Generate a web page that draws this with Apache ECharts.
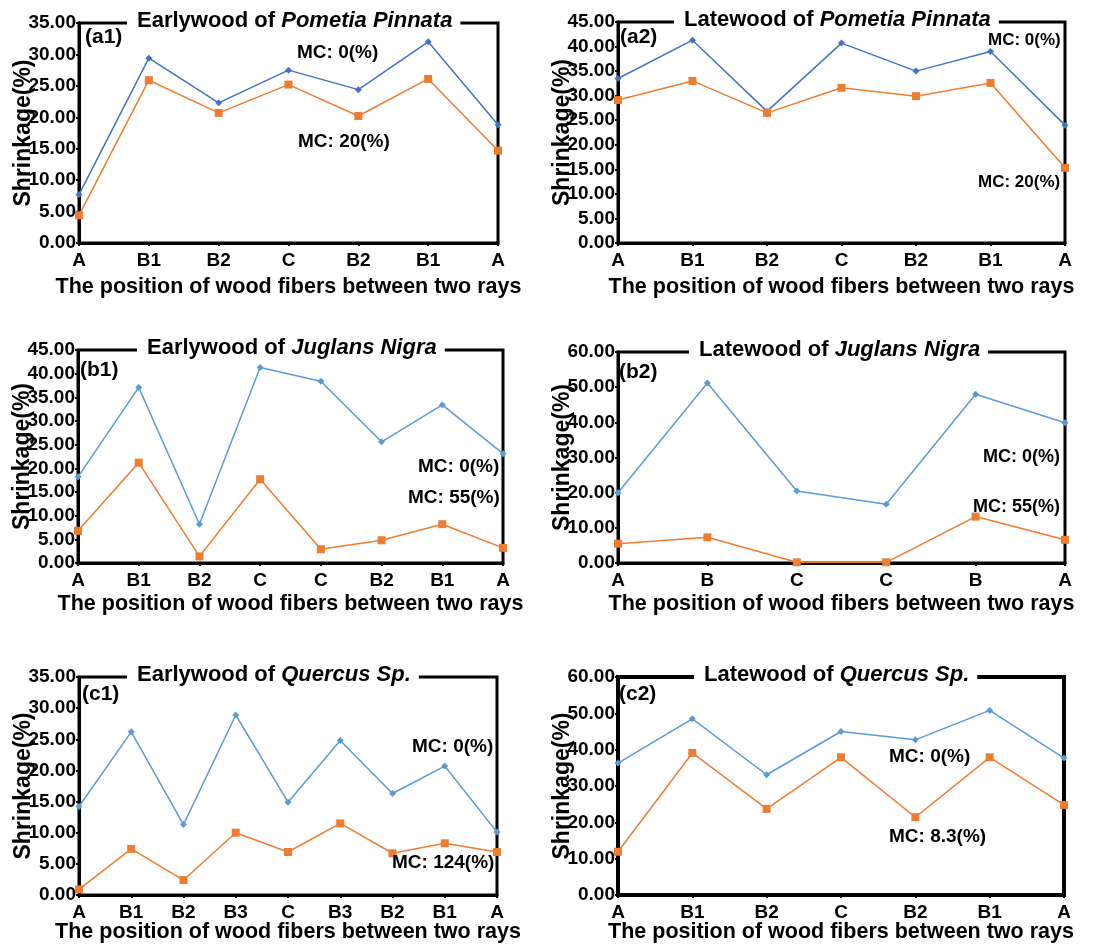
<!DOCTYPE html>
<html>
<head>
<meta charset="utf-8">
<script src="https://cdn.jsdelivr.net/npm/echarts@6/dist/echarts.min.js"></script>
<style>
  html, body { margin: 0; padding: 0; background: #fff; }
  #chart { width: 1116px; height: 944px; }
</style>
</head>
<body>
<div id="chart"></div>
<script>
// values (shrinkage %, per fiber position)
const catsA1 = ['A', 'B1', 'B2', 'C', 'B2', 'B1', 'A']
const dryA1 = [7.7, 29.4, 22.3, 27.5, 24.4, 32.0, 18.8]
const wetA1 = [4.4, 25.9, 20.7, 25.2, 20.2, 26.1, 14.7]

const catsA2 = ['A', 'B1', 'B2', 'C', 'B2', 'B1', 'A']
const dryA2 = [33.5, 41.3, 26.8, 40.7, 35.0, 39.0, 24.0]
const wetA2 = [29.1, 33.0, 26.5, 31.6, 29.9, 32.6, 15.3]

const catsB1 = ['A', 'B1', 'B2', 'C', 'C', 'B2', 'B1', 'A']
const dryB1 = [18.2, 37.1, 8.2, 41.3, 38.4, 25.6, 33.4, 23.1]
const wetB1 = [6.8, 21.2, 1.4, 17.7, 2.9, 4.8, 8.2, 3.2]

const catsB2 = ['A', 'B', 'C', 'C', 'B', 'A']
const dryB2 = [20.0, 51.2, 20.5, 16.7, 48.0, 39.9]
const wetB2 = [5.5, 7.3, 0.2, 0.2, 13.2, 6.6]

const catsC1 = ['A', 'B1', 'B2', 'B3', 'C', 'B3', 'B2', 'B1', 'A']
const dryC1 = [14.2, 26.2, 11.3, 28.9, 14.9, 24.8, 16.3, 20.7, 10.1]
const wetC1 = [0.9, 7.4, 2.4, 10.0, 6.9, 11.5, 6.7, 8.3, 6.9]

const catsC2 = ['A', 'B1', 'B2', 'C', 'B2', 'B1', 'A']
const dryC2 = [36.3, 48.5, 33.1, 45.0, 42.7, 50.8, 37.7]
const wetC2 = [11.9, 39.1, 23.7, 37.9, 21.4, 37.9, 24.8]

// y axis ranges [min, max, step]
const yRangeA1 = [0, 35, 5]
const yRangeA2 = [0, 45, 5]
const yRangeB1 = [0, 45, 5]
const yRangeB2 = [0, 60, 10]
const yRangeC1 = [0, 35, 5]
const yRangeC2 = [0, 60, 10]

const FONT = '"Liberation Sans", Arial, sans-serif'
const ORANGE = '#ed7d31'

// layout of the six panels
const panels = [
  { tag: '(a1)', grid: [79, 23, 419, 220], cats: catsA1, dry: dryA1, wet: wetA1, y: yRangeA1,
    wetName: 'MC: 20(%)', blue: '#4472c4', tn: 'Earlywood of ', ti: 'Pometia Pinnata', tl: 127,
    tagPos: [85, 37], mc0: [297, 53], mcW: [298, 142], mcSize: 19, gap: 33, border: 3 },
  { tag: '(a2)', grid: [618, 22, 447, 221], cats: catsA2, dry: dryA2, wet: wetA2, y: yRangeA2,
    wetName: 'MC: 20(%)', blue: '#4472c4', tn: 'Latewood of ', ti: 'Pometia Pinnata', tl: 674,
    tagPos: [620, 37], mc0: [988, 40], mcW: [978, 182], mcSize: 17, gap: 33, border: 3 },
  { tag: '(b1)', grid: [78, 350, 425, 213], cats: catsB1, dry: dryB1, wet: wetB1, y: yRangeB1,
    wetName: 'MC: 55(%)', blue: '#5b9bd5', tn: 'Earlywood of ', ti: 'Juglans Nigra', tl: 137,
    tagPos: [80, 370], mc0: [418, 467], mcW: [408, 498], mcSize: 19, gap: 30, border: 3 },
  { tag: '(b2)', grid: [618, 352, 447, 211], cats: catsB2, dry: dryB2, wet: wetB2, y: yRangeB2,
    wetName: 'MC: 55(%)', blue: '#5b9bd5', tn: 'Latewood of ', ti: 'Juglans Nigra', tl: 689,
    tagPos: [619, 372], mc0: [983, 457], mcW: [973, 507], mcSize: 18, gap: 30, border: 3 },
  { tag: '(c1)', grid: [79, 677, 418, 218], cats: catsC1, dry: dryC1, wet: wetC1, y: yRangeC1,
    wetName: 'MC: 124(%)', blue: '#5b9bd5', tn: 'Earlywood of ', ti: 'Quercus Sp.', tl: 127,
    tagPos: [82, 694], mc0: [412, 747], mcW: [392, 863], mcSize: 19, gap: 26, border: 3 },
  { tag: '(c2)', grid: [618, 677, 446, 218], cats: catsC2, dry: dryC2, wet: wetC2, y: yRangeC2,
    wetName: 'MC: 8.3(%)', blue: '#5b9bd5', tn: 'Latewood of ', ti: 'Quercus Sp.', tl: 694,
    tagPos: [619, 694], mc0: [889, 757], mcW: [889, 837], mcSize: 19, gap: 26, border: 4 }
]

const chart = echarts.init(document.getElementById('chart'), null, { renderer: 'canvas' })

const grid = [], xAxis = [], yAxis = [], series = [], title = [], graphic = []

panels.forEach((p, i) => {
  const [left, top, width, height] = p.grid
  grid.push({
    left, top, width, height,
    show: true, borderColor: '#000', borderWidth: p.border, backgroundColor: 'transparent'
  })
  xAxis.push({
    gridIndex: i,
    type: 'category',
    data: p.cats,
    boundaryGap: false,
    axisLine: { lineStyle: { color: '#000', width: p.border } },
    axisTick: { show: true, length: 3, inside: false, lineStyle: { color: '#000', width: 2 } },
    axisLabel: { color: '#000', fontSize: 19, fontWeight: 'bold', fontFamily: FONT, margin: 8, interval: 0 },
    name: 'The position of wood fibers between two rays',
    nameLocation: 'middle',
    nameGap: p.gap,
    nameMoveOverlap: false,
    nameTextStyle: { color: '#000', fontSize: 21.5, fontWeight: 'bold', fontFamily: FONT, verticalAlign: 'top' },
    splitLine: { show: false }
  })
  yAxis.push({
    gridIndex: i,
    type: 'value',
    min: p.y[0],
    max: p.y[1],
    interval: p.y[2],
    axisLine: { show: true, lineStyle: { color: '#000', width: p.border } },
    axisTick: { show: true, length: 3, lineStyle: { color: '#000', width: 2 } },
    axisLabel: {
      color: '#000', fontSize: 19, fontWeight: 'bold', fontFamily: FONT, margin: 3,
      formatter: v => v.toFixed(2)
    },
    name: 'Shrinkage(%)',
    nameLocation: 'middle',
    nameGap: 44,
    nameMoveOverlap: false,
    nameTextStyle: { color: '#000', fontSize: 23, fontWeight: 'bold', fontFamily: FONT },
    splitLine: { show: false }
  })
  series.push({
    name: 'MC: 0(%)',
    type: 'line',
    xAxisIndex: i,
    yAxisIndex: i,
    data: p.dry,
    symbol: 'diamond',
    symbolSize: 7,
    lineStyle: { color: p.blue, width: 1.5 },
    itemStyle: { color: p.blue },
    clip: false,
    animation: false
  })
  series.push({
    name: p.wetName,
    type: 'line',
    xAxisIndex: i,
    yAxisIndex: i,
    data: p.wet,
    symbol: 'rect',
    symbolSize: 8,
    lineStyle: { color: ORANGE, width: 1.5 },
    itemStyle: { color: ORANGE },
    clip: false,
    animation: false
  })
  title.push({
    text: '{n|' + p.tn + '}{i|' + p.ti + '}',
    left: p.tl,
    top: top - 15,
    padding: [2, 8, 2, 10],
    backgroundColor: '#fff',
    textStyle: {
      rich: {
        n: { fontSize: 22, fontWeight: 'bold', fontFamily: FONT, color: '#000' },
        i: { fontSize: 22, fontWeight: 'bold', fontStyle: 'italic', fontFamily: FONT, color: '#000' }
      }
    }
  })
  graphic.push({
    type: 'text', x: p.tagPos[0], y: p.tagPos[1], z: 100,
    style: { text: p.tag, font: 'bold 21px ' + FONT, fill: '#000', verticalAlign: 'middle' }
  })
  graphic.push({
    type: 'text', x: p.mc0[0], y: p.mc0[1], z: 100,
    style: { text: 'MC: 0(%)', font: 'bold ' + p.mcSize + 'px ' + FONT, fill: '#000', verticalAlign: 'middle' }
  })
  graphic.push({
    type: 'text', x: p.mcW[0], y: p.mcW[1], z: 100,
    style: { text: p.wetName, font: 'bold ' + p.mcSize + 'px ' + FONT, fill: '#000', verticalAlign: 'middle' }
  })
})

chart.setOption({
  backgroundColor: '#fff',
  animation: false,
  title,
  grid,
  xAxis,
  yAxis,
  series,
  graphic
})
</script>
</body>
</html>
